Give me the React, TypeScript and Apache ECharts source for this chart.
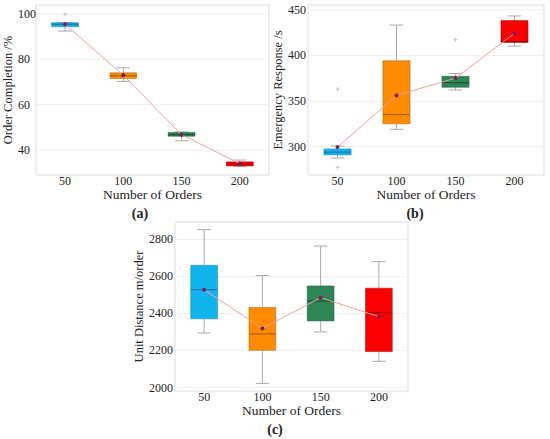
import React, { useEffect, useRef } from "react";
import * as echarts from "echarts";

const categories = ["50", "100", "150", "200"];

// [min, Q1, median, Q3, max]
const completionBox = [
  [92.5, 94.4, 95.5, 96.2, 96.2],
  [70.3, 71.6, 72.8, 74.1, 76.3],
  [44.1, 46.1, 46.8, 47.8, 48.0],
  [32.8, 33.0, 33.8, 34.8, 35.6],
];
const completionMean = [95.5, 73.0, 46.8, 34.0];
const completionOutliers = [[0, 100]];

const responseBox = [
  [287.6, 291, 294, 297.5, 300.8],
  [319, 325, 335, 394, 433],
  [362, 365, 370, 377, 380],
  [410, 414, 415, 438, 443],
];
const responseMean = [299.5, 356, 375, 424];
const responseOutliers = [
  [0, 363],
  [0, 277],
  [2, 417],
];

const distanceBox = [
  [2294, 2370, 2527, 2658, 2850],
  [2023, 2201, 2289, 2431, 2603],
  [2300, 2359, 2466, 2547, 2762],
  [2142, 2194, 2404, 2535, 2678],
];
const distanceMean = [2527, 2318, 2484, 2382];
const distanceOutliers: number[][] = [];

const completionTicks = [40, 60, 80, 100];
const responseTicks = [300, 350, 400, 450];
const distanceTicks = [2000, 2200, 2400, 2600, 2800];

const boxColors = ["#12b4ee", "#ff8c00", "#2e8555", "#fb0000"];
const medianColors = ["#1a7aa6", "#a85e08", "#1c5636", "#a40000"];

const FONT = "'Liberation Serif', 'Times New Roman', 'DejaVu Serif', serif";

function renderBox(params: any, api: any) {
  const x = api.value(0);
  const lo = api.coord([x, api.value(1)]);
  const q1 = api.coord([x, api.value(2)]);
  const med = api.coord([x, api.value(3)]);
  const q3 = api.coord([x, api.value(4)]);
  const hi = api.coord([x, api.value(5)]);
  const bw = api.size([1, 0])[0] * 0.46;
  const cx = lo[0];
  const i = params.dataIndex;
  const ws = { stroke: "#aaaaaa", lineWidth: 1 };
  const children: any[] = [
    { type: "line", shape: { x1: cx, y1: q1[1], x2: cx, y2: lo[1] }, style: ws },
    { type: "line", shape: { x1: cx, y1: q3[1], x2: cx, y2: hi[1] }, style: ws },
    { type: "line", shape: { x1: cx - bw / 4, y1: lo[1], x2: cx + bw / 4, y2: lo[1] }, style: ws },
    { type: "line", shape: { x1: cx - bw / 4, y1: hi[1], x2: cx + bw / 4, y2: hi[1] }, style: ws },
    {
      type: "rect",
      shape: { x: cx - bw / 2, y: q3[1], width: bw, height: q1[1] - q3[1] },
      style: { fill: boxColors[i], stroke: medianColors[i], lineWidth: 0.5 },
    },
    {
      type: "line",
      shape: { x1: cx - bw / 2, y1: med[1], x2: cx + bw / 2, y2: med[1] },
      style: { stroke: medianColors[i], lineWidth: 1.2 },
    },
  ];
  return { type: "group", children };
}

type Panel = {
  grid: { left: number; top: number; width: number; height: number };
  min: number;
  max: number;
  ticks: number[];
  name: string;
  nameGap: number;
  labelAlign: string;
  labelMargin: number;
  box: number[][];
  mean: number[];
  outliers: number[][];
};

const panels: Panel[] = [
  {
    grid: { left: 33, top: 5, width: 236, height: 170 },
    min: 29,
    max: 104,
    ticks: completionTicks,
    name: "Order Completion /%",
    nameGap: 20,
    labelAlign: "left",
    labelMargin: 18,
    box: completionBox,
    mean: completionMean,
    outliers: completionOutliers,
  },
  {
    grid: { left: 308, top: 5, width: 236, height: 170 },
    min: 269,
    max: 455,
    ticks: responseTicks,
    name: "Emergency Response /s",
    nameGap: 20,
    labelAlign: "right",
    labelMargin: 2,
    box: responseBox,
    mean: responseMean,
    outliers: responseOutliers,
  },
  {
    grid: { left: 175, top: 222, width: 233, height: 169 },
    min: 1982,
    max: 2891,
    ticks: distanceTicks,
    name: "Unit Distance m/order",
    nameGap: 25,
    labelAlign: "right",
    labelMargin: 2,
    box: distanceBox,
    mean: distanceMean,
    outliers: distanceOutliers,
  },
];

const panelLabels = [
  { text: "(a)", x: 140, y: 213 },
  { text: "(b)", x: 415, y: 213 },
  { text: "(c)", x: 275, y: 429 },
];

export default function App() {
  const ref = useRef<HTMLDivElement>(null);
  useEffect(() => {
    if (!ref.current) return;
    const chart = echarts.init(ref.current, undefined, { renderer: "svg" });
    const grids = panels.map((p) => ({
      ...p.grid,
      show: true,
      borderColor: "#dddddd",
      borderWidth: 1,
      backgroundColor: "#ffffff",
      containLabel: false,
    }));
    const xAxes = panels.map((p, i) => ({
      type: "category",
      gridIndex: i,
      data: categories,
      boundaryGap: true,
      axisLine: { show: false },
      axisTick: { show: false },
      axisLabel: { fontFamily: FONT, fontSize: 12, color: "#222", margin: 0 },
      name: "Number of Orders",
      nameLocation: "middle",
      nameGap: 5,
      nameTextStyle: { fontFamily: FONT, fontSize: 13.5, color: "#222", verticalAlign: "top" },
    }));
    const yAxes = panels.map((p, i) => ({
      type: "value",
      gridIndex: i,
      min: p.min,
      max: p.max,
      axisLine: { show: false },
      axisTick: { show: false, customValues: p.ticks },
      axisLabel: {
        fontFamily: FONT,
        fontSize: 12,
        color: "#222",
        align: p.labelAlign,
        margin: p.labelMargin,
        customValues: p.ticks,
        formatter: (v: number) => String(v),
      },
      splitLine: { show: true, lineStyle: { color: "#efefef", width: 1 } },
      name: p.name,
      nameLocation: "middle",
      nameGap: p.nameGap,
      nameTextStyle: { fontFamily: FONT, fontSize: 12.5, color: "#222" },
    }));
    const series: any[] = [];
    panels.forEach((p, i) => {
      series.push({
        type: "custom",
        xAxisIndex: i,
        yAxisIndex: i,
        renderItem: renderBox,
        encode: { x: 0, y: [1, 2, 3, 4, 5] },
        data: p.box.map((b, k) => [k, ...b]),
        z: 2,
      });
      series.push({
        type: "line",
        xAxisIndex: i,
        yAxisIndex: i,
        data: p.mean,
        symbol: "circle",
        symbolSize: 4,
        lineStyle: { color: "#f3a0a0", width: 1 },
        itemStyle: { color: "#7a1d5c" },
        z: 4,
      });
      series.push({
        type: "scatter",
        xAxisIndex: i,
        yAxisIndex: i,
        data: p.outliers,
        symbol: "path://M4,0h2v10h-2zM0,4h10v2h-10z",
        symbolSize: 4,
        itemStyle: { color: "#aaaaaa" },
        z: 3,
      });
    });
    const graphic = panelLabels.map((l) => ({
      type: "text",
      x: l.x,
      y: l.y,
      style: {
        text: l.text,
        align: "center",
        verticalAlign: "middle",
        fontFamily: FONT,
        fontSize: 14,
        fontWeight: "bold",
        fill: "#222",
      },
    }));
    chart.setOption({
      animation: false,
      backgroundColor: "#ffffff",
      grid: grids,
      xAxis: xAxes,
      yAxis: yAxes,
      series,
      graphic,
    });
    return () => chart.dispose();
  }, []);
  return (
    <div
      ref={ref}
      style={{ position: "absolute", left: 0, top: 0, width: 550, height: 439 }}
    />
  );
}
